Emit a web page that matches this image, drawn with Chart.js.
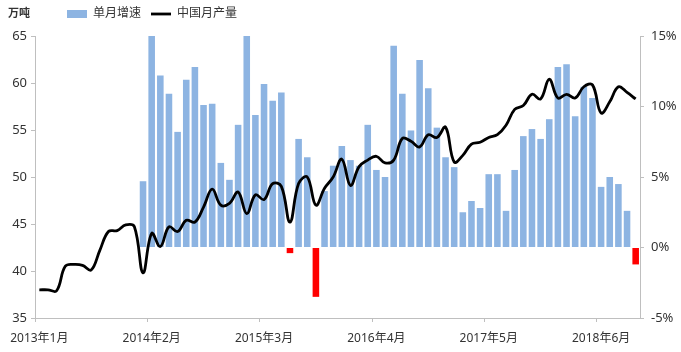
<!DOCTYPE html>
<html>
<head>
<meta charset="utf-8">
<script src="https://cdn.jsdelivr.net/npm/chart.js@4"></script>
<style>
  html, body { margin: 0; padding: 0; background: #fff; }
  #wrap { width: 681px; height: 352px; }
</style>
</head>
<body>
<div id="wrap"><canvas id="chart"></canvas></div>
<script>
// Monthly categories, 2013年1月 .. 2018年10月
const startYear = 2013;
const monthCount = 70;
const months = [];
for (let i = 0; i < monthCount; i++) {
    months.push((startYear + Math.floor(i / 12)) + '年' + (i % 12 + 1) + '月');
}

// 中国月产量 (万吨)
const output = [
    38.0, 38.0, 37.9, 40.5, 40.7, 40.6, 40.1, 42.2, 44.2, 44.3, 44.9, 44.7,
    39.8, 44.0, 42.6, 44.7, 44.2, 45.4, 45.2, 46.8, 48.7, 47.0, 47.2, 48.4,
    46.1, 48.1, 47.6, 49.3, 49.0, 45.2, 49.3, 50.0, 47.0, 48.8, 50.0, 51.9,
    49.1, 51.1, 51.8, 52.2, 51.5, 51.8, 54.1, 53.8, 53.2, 54.5, 54.2, 55.3,
    51.6, 52.3, 53.5, 53.7, 54.2, 54.5, 55.5, 57.2, 57.6, 58.8, 58.3, 60.4,
    58.4, 58.8, 58.4, 59.6, 59.8, 56.8, 58.0, 59.6, 59.0, 58.3
];

// 单月增速 (%)
const growth = [
    null, null, null, null, null, null, null, null, null, null, null, null,
    4.7, 15.8, 12.2, 10.9, 8.2, 11.9, 12.8, 10.1, 10.2, 6.0, 4.8, 8.7,
    15.8, 9.4, 11.6, 10.4, 11.0, -0.4, 7.7, 6.4, -3.5, 4.0, 5.8, 7.2,
    6.2, 5.8, 8.7, 5.5, 5.0, 14.3, 10.9, 8.3, 13.3, 11.3, 8.5, 6.4,
    5.7, 2.5, 3.3, 2.8, 5.2, 5.2, 2.6, 5.5, 7.9, 8.4, 7.7, 9.1,
    12.8, 13.0, 9.3, 11.4, 10.6, 4.3, 5.0, 4.5, 2.6, -1.2
];

const leftTicks = [35, 40, 45, 50, 55, 60, 65];
const rightTicks = [-5, 0, 5, 10, 15];

const BLUE = '#8db4e2';
const RED = '#ff0000';
const AXIS = '#bfbfbf';
const TEXT = '#333333';
const FONT = 'Noto Sans, "Noto Sans CJK SC", sans-serif';

const extras = {
    id: 'extras',
    afterLayout(chart) {
        // put the legend where the original has it
        const lg = chart.legend;
        lg.left = 57;
        lg.top = -2;
    },
    afterDraw(chart) {
        const ctx = chart.ctx;
        ctx.save();
        ctx.font = 'bold 11px "Noto Sans CJK SC"';
        ctx.fillStyle = TEXT;
        ctx.textBaseline = 'middle';
        ctx.fillText('万吨', 8, 13);
        ctx.restore();
    }
};

new Chart(document.getElementById('chart'), {
    type: 'bar',
    data: {
        labels: months,
        datasets: [
            {
                label: '单月增速',
                data: growth,
                yAxisID: 'y1',
                backgroundColor: c => (c.raw < 0 ? RED : BLUE),
                borderWidth: 0,
                categoryPercentage: 1,
                barPercentage: 0.76,
                pointStyle: 'rect',
                order: 1
            },
            {
                type: 'line',
                label: '中国月产量',
                data: output,
                yAxisID: 'y',
                borderColor: '#000',
                backgroundColor: '#000',
                borderWidth: 2.8,
                pointRadius: 0,
                tension: 0.4,
                pointStyle: 'line',
                order: 0
            }
        ]
    },
    options: {
        responsive: true,
        maintainAspectRatio: false,
        animation: false,
        devicePixelRatio: 1,
        layout: { padding: { top: 4, left: 0, right: 0, bottom: 0 } },
        plugins: {
            legend: {
                position: 'top',
                align: 'start',
                labels: {
                    usePointStyle: true,
                    pointStyleWidth: 20,
                    boxHeight: 8,
                    padding: 10,
                    color: TEXT,
                    font: { family: FONT, size: 12 },
                    sort: (a, b) => a.datasetIndex - b.datasetIndex
                }
            },
            tooltip: { enabled: false }
        },
        scales: {
            x: {
                offset: true,
                grid: {
                    offset: true,
                    drawOnChartArea: false,
                    tickLength: 4,
                    color: c => (c.index % 13 === 0 ? AXIS : 'rgba(0,0,0,0)')
                },
                border: { color: AXIS },
                ticks: {
                    autoSkip: false,
                    maxRotation: 0,
                    padding: 9,
                    color: TEXT,
                    font: { family: FONT, size: 12 },
                    callback: (v, i) => (i % 13 === 0 ? months[i] : '')
                },
                afterFit: s => { s.height = 34; }
            },
            y: {
                position: 'left',
                min: leftTicks[0],
                max: leftTicks[leftTicks.length - 1],
                grid: { drawOnChartArea: false, tickLength: 4, color: AXIS },
                border: { color: AXIS },
                ticks: { stepSize: 5, padding: 4, color: TEXT, font: { family: FONT, size: 13 } },
                afterFit: s => { s.width = 35; }
            },
            y1: {
                position: 'right',
                min: rightTicks[0],
                max: rightTicks[rightTicks.length - 1],
                grid: { drawOnChartArea: false, tickLength: 4, color: AXIS },
                border: { color: AXIS },
                ticks: {
                    stepSize: 5, padding: 7, color: TEXT,
                    font: { family: FONT, size: 13 },
                    callback: v => v + '%'
                },
                afterFit: s => { s.width = 41; }
            }
        }
    },
    plugins: [extras]
});
</script>
</body>
</html>
